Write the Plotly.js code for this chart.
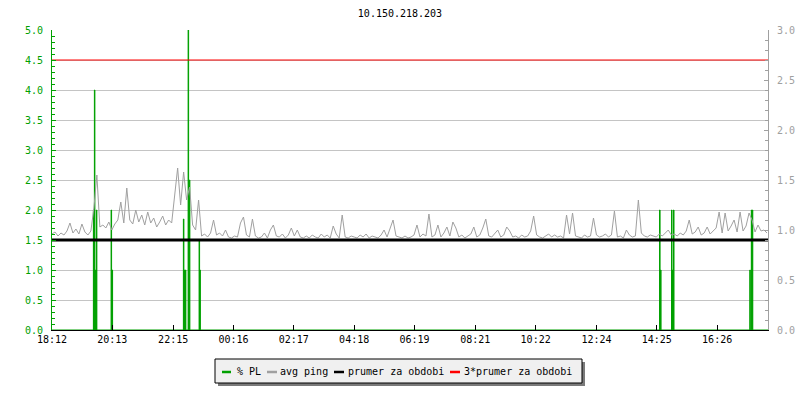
<!DOCTYPE html>
<html>
<head>
<meta charset="utf-8">
<script src="https://cdn.plot.ly/plotly-3.0.1.min.js"></script>
<style>html,body{margin:0;padding:0;background:#fff}#chart{width:800px;height:400px}</style>
</head>
<body>
<div id="chart"></div>
<script>
// ---- data ----
const chartTitle = '10.150.218.203';
const tickLabels = ['18:12','20:13','22:15','00:16','02:17','04:18','06:19','08:21','10:22','12:24','14:25','16:26'];
const rangeMinutes = 1436;
const pingStepMinutes = 6;
// avg ping (ms, right axis), one value every 6 minutes
const pingValues = [
 0.96,0.98,0.94,0.97,0.95,0.99,1.07,0.97,1.01,0.96,
 1.06,0.98,0.95,0.99,1.22,1.55,1.03,1.05,1.02,1.08,
 1.00,1.06,1.10,1.28,1.07,1.42,1.10,1.06,1.20,1.08,
 1.15,1.05,1.18,1.07,1.12,1.03,1.08,1.14,1.05,1.10,
 1.07,1.33,1.62,1.25,1.58,1.30,1.43,1.05,1.00,1.30,
 0.94,0.96,0.93,0.97,1.10,0.95,0.97,0.94,1.00,0.93,
 0.92,0.94,0.93,1.07,1.13,0.95,0.93,1.11,0.94,0.92,
 0.93,0.97,0.92,1.00,1.05,0.94,0.93,0.96,0.92,0.95,
 1.02,0.94,1.00,0.93,0.92,0.94,0.92,0.95,0.93,0.92,
 0.96,0.93,0.95,0.92,1.04,0.96,0.92,1.15,0.93,0.92,
 0.94,0.93,0.92,0.95,0.93,0.96,0.92,0.94,0.93,0.92,
 0.95,1.00,0.93,1.02,1.10,0.94,0.93,0.92,0.94,0.92,
 0.93,0.95,1.05,0.93,0.96,0.94,1.16,0.93,0.95,1.05,
 0.93,0.97,1.03,0.94,1.08,1.02,0.93,0.95,0.92,0.94,
 0.96,1.03,0.93,0.95,1.02,1.11,0.94,0.93,0.96,1.00,
 0.93,0.95,1.03,0.99,0.93,0.94,0.92,0.95,0.93,0.94,
 0.99,1.14,0.95,0.93,0.92,0.94,0.96,0.93,0.95,0.93,
 0.94,0.92,1.15,0.96,1.17,0.94,0.93,0.92,0.95,0.93,
 0.94,1.12,0.95,0.93,0.94,0.96,0.93,0.95,1.19,0.93,
 0.94,0.92,1.00,0.95,0.93,0.94,1.30,0.97,0.94,0.93,
 0.95,0.94,0.93,0.96,0.94,0.97,1.00,0.95,0.96,0.94,
 0.97,0.95,0.99,1.10,0.96,0.98,1.03,0.95,0.97,1.03,
 0.96,0.99,1.02,1.18,0.97,1.17,0.99,1.04,1.10,0.98,
 1.18,0.99,1.04,1.17,1.10,0.98,1.05,0.99,1.00,0.97
];
// packet loss events (minutes from start, % PL, left axis)
const plTimes  = [83.5, 85.5, 87.5, 89.5, 119, 121, 264, 266, 268, 273.5, 276, 295.5, 297, 1219, 1221, 1243, 1245, 1247, 1400, 1403, 1405];
const plValues = [2.0,  4.0,  1.0,  2.0,  2.0, 1.0, 1.85,1.0, 1.0, 5.0,   2.5, 1.5,   1.0, 2.0,  1.0,  2.0,  1.0,  2.0,  1.0,  2.0,  2.0];
const prumer = 0.9;
const prumer3 = 3 * prumer;
const seriesNames = ['% PL', 'avg ping', 'prumer za obdobi', '3*prumer za obdobi'];

// ---- build ----
const toMin = s => { const [h, m] = s.split(':').map(Number); let v = h * 60 + m - (18 * 60 + 12); if (v < 0) v += 1440; return v; };
const tickVals = tickLabels.map(toMin);
const pingTimes = pingValues.map((_, i) => i * pingStepMinutes);

// step series for packet loss (each sample ~1 minute wide)
const half = 0.5;
const plX = [0], plY = [0];
plTimes.forEach((t, i) => {
  plX.push(t - half); plY.push(plValues[i]);
  const next = plTimes[i + 1];
  if (next === undefined || next - half > t + half) { plX.push(t + half); plY.push(0); }
});
plX.push(rangeMinutes); plY.push(0);

const mono = "'DejaVu Sans Mono', 'Liberation Mono', monospace";
const green = '#00a000';
const gray = '#a0a0a0';
const colors = [green, gray, '#000000', '#ff0000'];

const traces = [
  {type: 'scatter', mode: 'lines', x: plX, y: plY, yaxis: 'y', name: seriesNames[0],
   line: {color: green, width: 1, shape: 'hv'}, fill: 'tozeroy', fillcolor: green, hoverinfo: 'skip'},
  {type: 'scatter', mode: 'lines', x: pingTimes, y: pingValues, yaxis: 'y2', name: seriesNames[1],
   line: {color: gray, width: 1}},
  {type: 'scatter', mode: 'lines', x: [0, rangeMinutes], y: [prumer, prumer], yaxis: 'y2', name: seriesNames[2],
   line: {color: colors[2], width: 3}},
  {type: 'scatter', mode: 'lines', x: [0, rangeMinutes], y: [prumer3, prumer3], yaxis: 'y2', name: seriesNames[3],
   line: {color: colors[3], width: 1}}
];

// custom legend (pixel layout converted to paper coords)
const plotL = 52, plotW = 716, plotB = 330, plotH = 300;
const px = v => (v - plotL) / plotW;
const py = v => (plotB - v) / plotH;
const legendBox = {x0: 215, x1: 582, y0: 359, y1: 383};
const legendItems = [
  {line: [222, 231], text: 237},
  {line: [267, 277], text: 280},
  {line: [334, 344], text: 348},
  {line: [450, 460], text: 464}
];
const legY = 371;
const shapes = [
  {type: 'rect', xref: 'paper', yref: 'paper', x0: px(legendBox.x0 + 3), x1: px(legendBox.x1 + 3),
   y0: py(legendBox.y0 + 3), y1: py(legendBox.y1 + 3), fillcolor: '#7a7a7a', line: {width: 0}, layer: 'above'},
  {type: 'rect', xref: 'paper', yref: 'paper', x0: px(legendBox.x0), x1: px(legendBox.x1),
   y0: py(legendBox.y0), y1: py(legendBox.y1), fillcolor: '#f0f0f0', line: {color: '#000', width: 1}, layer: 'above'}
];
const annotations = [];
legendItems.forEach((it, i) => {
  shapes.push({type: 'line', xref: 'paper', yref: 'paper', x0: px(it.line[0]), x1: px(it.line[1]),
    y0: py(legY + 1), y1: py(legY + 1), line: {color: colors[i], width: 2.5}, layer: 'above'});
  annotations.push({xref: 'paper', yref: 'paper', x: px(it.text), y: py(legY), xanchor: 'left', yanchor: 'middle',
    text: seriesNames[i], showarrow: false, font: {family: mono, size: 10, color: '#000'}, xshift: -2});
});

const layout = {
  width: 800, height: 400,
  margin: {l: plotL, r: 800 - plotL - plotW, t: 30, b: 400 - plotB},
  paper_bgcolor: '#ffffff', plot_bgcolor: '#ffffff',
  font: {family: mono, size: 10, color: '#000'},
  title: {text: chartTitle, font: {family: mono, size: 10, color: '#000'}, x: 0.5, xanchor: 'center', y: 0.967, yanchor: 'middle'},
  showlegend: false,
  xaxis: {range: [0, rangeMinutes], tickvals: tickVals, ticktext: tickLabels, showgrid: false, zeroline: false,
          showline: true, linecolor: '#000', linewidth: 1, ticks: 'inside', ticklen: 5, tickcolor: '#000',
          tickfont: {family: mono, size: 10, color: '#000'}},
  yaxis: {range: [0, 5], dtick: 0.5, tickformat: '.1f', showgrid: true, gridcolor: '#c4c4c4', gridwidth: 1,
          zeroline: false, showline: true, linecolor: green, linewidth: 1, ticks: 'inside', ticklen: 4, tickcolor: green,
          ticklabelstandoff: 6, tickfont: {family: mono, size: 10, color: green},
          minor: {dtick: 0.1, ticks: 'inside', ticklen: 3, tickcolor: green, showgrid: false}},
  yaxis2: {range: [0, 3], dtick: 0.5, tickformat: '.1f', overlaying: 'y', side: 'right', showgrid: false,
           zeroline: false, showline: true, linecolor: gray, linewidth: 1, ticks: 'inside', ticklen: 4, tickcolor: gray,
           ticklabelstandoff: 6, tickfont: {family: mono, size: 10, color: gray},
           minor: {dtick: 0.1, ticks: 'inside', ticklen: 3, tickcolor: gray, showgrid: false}},
  shapes: shapes,
  annotations: annotations
};

Plotly.newPlot('chart', traces, layout, {displayModeBar: false, staticPlot: true});
</script>
</body>
</html>
